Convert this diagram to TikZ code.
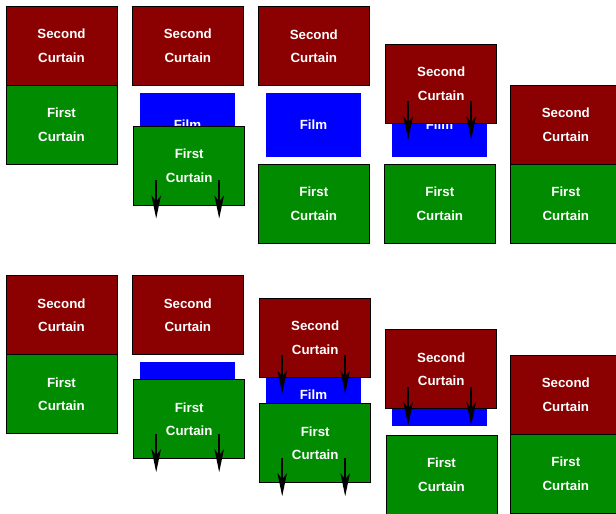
\documentclass[tikz,border=0pt]{standalone}
\usepackage{fontspec}
\setmainfont{Liberation Sans}
\usetikzlibrary{arrows.meta,calc}
\definecolor{curtainred}{RGB}{139,0,0}
\definecolor{curtaingreen}{RGB}{0,139,0}
\definecolor{filmblue}{RGB}{0,0,255}
\newcommand\curtainarrows[2]{%
  \draw[move] ($(#1.center)+(-33,#2)$) -- ++(0,38.5);
  \draw[move] ($(#1.center)+(30,#2)$) -- ++(0,38.5);}
\begin{document}
\begin{tikzpicture}[x=1pt,y=-1pt,
  curtain/.style={draw=black,line width=1pt,minimum width=111pt,minimum height=79pt,inner sep=0pt,text=white,font=\fontsize{13.3}{23.5}\selectfont\bfseries,align=center},
  second/.style={curtain,fill=curtainred},
  first/.style={curtain,fill=curtaingreen},
  film/.style={fill=filmblue,minimum width=95pt,minimum height=64pt,inner sep=0pt,text=white,font=\fontsize{13.3}{15}\selectfont\bfseries},
  move/.style={line width=1.6pt,-{Stealth[length=23pt,width=9.5pt,inset=6pt]}}
]
\useasboundingbox (0,0) rectangle (616,514);
\clip (0,0) rectangle (616,514);
% films
\node[film] (fa2) at (187.5,125) {Film};
\node[film] (fa3) at (313.5,125) {Film};
\node[film] (fa4) at (439.5,125) {Film};
\node[film] (fb2) at (187.5,394.3) {Film};
\node[film] (fb3) at (313.5,394.3) {Film};
\node[film] (fb4) at (439.5,394.3) {Film};
% row 1
\node[second] (sa1) at (61.5,45.8) {Second\\Curtain};
\node[first]  (ca1) at (61.5,124.8) {First\\Curtain};
\node[second] (sa2) at (187.8,45.8) {Second\\Curtain};
\node[first]  (ca2) at (189.2,165.5) {First\\Curtain};
\node[second] (sa3) at (313.8,46) {Second\\Curtain};
\node[first]  (ca3) at (313.8,203.7) {First\\Curtain};
\node[second] (sa4) at (441.2,83.5) {Second\\Curtain};
\node[first]  (ca4) at (439.8,203.7) {First\\Curtain};
\node[second] (sa5) at (565.8,124.8) {Second\\Curtain};
\node[first]  (ca5) at (565.8,203.8) {First\\Curtain};
% row 2
\node[second] (sb1) at (61.5,315.2) {Second\\Curtain};
\node[first]  (cb1) at (61.5,394.2) {First\\Curtain};
\node[second] (sb2) at (187.8,315.2) {Second\\Curtain};
\node[first]  (cb2) at (189.2,419.2) {First\\Curtain};
\node[second] (sb3) at (315.2,337.5) {Second\\Curtain};
\node[first]  (cb3) at (315.2,443.2) {First\\Curtain};
\node[second] (sb4) at (441.2,369.2) {Second\\Curtain};
\node[first]  (cb4) at (441.5,474.5) {First\\Curtain};
\node[second] (sb5) at (565.8,394.5) {Second\\Curtain};
\node[first]  (cb5) at (565.8,473.5) {First\\Curtain};
% arrows
\curtainarrows{ca2}{14.5}
\curtainarrows{sa4}{17.5}
\curtainarrows{cb2}{14.5}
\curtainarrows{sb3}{17.5}
\curtainarrows{cb3}{14.5}
\curtainarrows{sb4}{17.5}
\end{tikzpicture}
\end{document}
